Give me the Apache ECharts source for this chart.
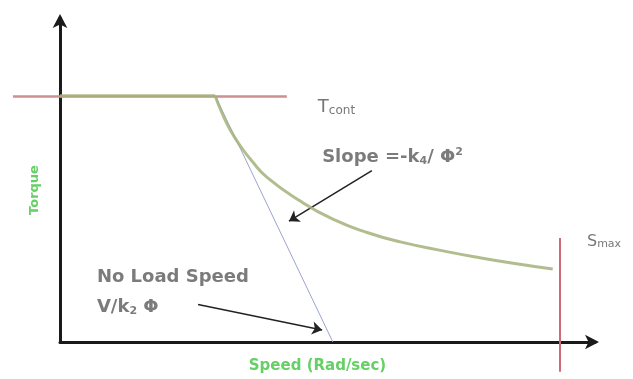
<!DOCTYPE html>
<html>
<head>
<meta charset="utf-8">
<script src="https://cdn.jsdelivr.net/npm/echarts@6/dist/echarts.min.js"></script>
<style>
  html, body { margin: 0; padding: 0; background: #fff; }
  #chart { width: 633px; height: 379px; }
</style>
</head>
<body>
<div id="chart"></div>
<script>
// Torque–speed characteristic of a DC motor (normalised units, 0–100 on both axes)
const tcont = 76;                        // continuous torque level
const tcontSpan = [-8.8, 42.4];          // speed range of the Tcont line
const smax = 93.5;                       // maximum speed
const smaxSpan = [-9.2, 32.1];           // torque range of the Smax line

// Constant-torque plateau
const plateauSpeed  = [0, 29.0];
const plateauTorque = [76, 76];

// Field-weakening torque curve beyond base speed
const curveSpeed  = [29.0, 30.2, 31.8, 33.8, 35.8, 38.7, 44.9, 51.0, 57.4, 63.6, 72.3, 78.5, 84.7, 92.1];
const curveTorque = [76, 71.0, 65.5, 60.3, 56.0, 50.8, 43.5, 37.9, 33.8, 30.9, 27.9, 26.0, 24.3, 22.5];

// Straight armature line down to the no-load speed
const loadLineSpeed  = [29.0, 51.0];
const loadLineTorque = [76, 0];

// Annotation arrows: [fromSpeed, fromTorque, toSpeed, toTorque]
const slopeArrow   = [58.3, 52.9, 42.8, 37.3];
const noLoadArrow  = [25.8, 11.6, 49.0, 3.7];

// Annotation anchors (left edge, vertical middle)
const labelNames = ['tcont', 'slope', 'noload', 'vk', 'smax'];
const labelSpeed  = [48.2, 49.0, 6.9, 6.9, 98.5];
const labelTorque = [72.5, 57.0, 19.9, 10.7, 30.9];

const xName = 'Speed (Rad/sec)';
const yName = 'Torque';

const pairs = (xs, ys) => xs.map((x, i) => [x, ys[i]]);

const labelText = {
  tcont:  '{big|T}{sub|cont}',
  slope:  '{b|Slope =-k}{bs|4}{b|/ Φ}{sup|2}',
  noload: '{b|No Load Speed}',
  vk:     '{b|V/k}{bs|2}{b| Φ}',
  smax:   '{sm|S}{subs|max}'
};

const chart = echarts.init(document.getElementById('chart'), null, { renderer: 'canvas' });

const axisLine = {
  onZero: false,
  symbol: ['none', 'arrow'],
  symbolSize: [11, 14],
  symbolOffset: [0, 4],
  lineStyle: { color: '#1a1a1a', width: 3 }
};

const curveStyle = { color: '#a3b27a', width: 3, opacity: 0.85 };

chart.setOption({
  animation: false,
  backgroundColor: '#ffffff',
  grid: { left: 60, right: 38, top: 18, bottom: 34, containLabel: false },
  xAxis: {
    type: 'value', min: 0, max: 100,
    name: xName, nameLocation: 'middle', nameGap: 17,
    nameTextStyle: { color: '#66cf66', fontFamily: 'DejaVu Sans', fontSize: 15, fontWeight: 'bold', padding: [0, 20, 0, 0] },
    axisLine: axisLine,
    axisTick: { show: false }, axisLabel: { show: false }, splitLine: { show: false }
  },
  yAxis: {
    type: 'value', min: 0, max: 100,
    name: yName, nameLocation: 'middle', nameGap: 19, nameRotate: 90,
    nameTextStyle: { color: '#66cf66', fontFamily: 'DejaVu Sans', fontSize: 13, fontWeight: 'bold', padding: [0, 20, 0, 0] },
    axisLine: axisLine,
    axisTick: { show: false }, axisLabel: { show: false }, splitLine: { show: false }
  },
  series: [
    {
      name: 'Limits', type: 'lines', coordinateSystem: 'cartesian2d', silent: true, clip: false,
      data: [
        { coords: [[tcontSpan[0], tcont], [tcontSpan[1], tcont]], lineStyle: { color: '#cc9090', width: 2.5 } },
        { coords: [[smax, smaxSpan[0]], [smax, smaxSpan[1]]], lineStyle: { color: '#d06a78', width: 2 } }
      ],
      lineStyle: { opacity: 1 }
    },
    {
      name: 'No-load line', type: 'line', clip: false, symbol: 'none', silent: true,
      data: pairs(loadLineSpeed, loadLineTorque),
      lineStyle: { color: '#9aa4cf', width: 1 }
    },
    {
      name: 'Plateau', type: 'line', clip: false, symbol: 'none', silent: true,
      data: pairs(plateauSpeed, plateauTorque),
      lineStyle: curveStyle
    },
    {
      name: 'Torque curve', type: 'line', clip: false, symbol: 'none', smooth: 0.5, silent: true,
      data: pairs(curveSpeed, curveTorque),
      lineStyle: curveStyle
    },
    {
      name: 'Arrows', type: 'lines', coordinateSystem: 'cartesian2d', silent: true,
      symbol: ['none', 'arrow'], symbolSize: 10,
      lineStyle: { color: '#222', width: 1.5, opacity: 1 },
      data: [slopeArrow, noLoadArrow].map(a => ({ coords: [[a[0], a[1]], [a[2], a[3]]] }))
    },
    {
      name: 'Annotations', type: 'scatter', symbolSize: 0, silent: true, clip: false,
      data: labelNames.map((n, i) => ({ name: n, value: [labelSpeed[i], labelTorque[i]] })),
      label: {
        show: true, position: 'right', distance: 0,
        formatter: p => labelText[p.name],
        rich: {
          big:  { fontFamily: 'DejaVu Sans', fontSize: 18, color: '#555' },
          sub:  { fontFamily: 'DejaVu Sans', fontSize: 12, color: '#555', padding: [7, 0, 0, 0] },
          b:    { fontFamily: 'DejaVu Sans', fontSize: 18, fontWeight: 'bold', color: '#5a5a5a' },
          bs:   { fontFamily: 'DejaVu Sans', fontSize: 11, fontWeight: 'bold', color: '#5a5a5a', padding: [8, 0, 0, 0] },
          sup:  { fontFamily: 'DejaVu Sans', fontSize: 11, fontWeight: 'bold', color: '#5a5a5a', padding: [0, 0, 10, 0] },
          sm:   { fontFamily: 'DejaVu Sans', fontSize: 16, color: '#555' },
          subs: { fontFamily: 'DejaVu Sans', fontSize: 11, color: '#555', padding: [4, 0, 0, 0] }
        }
      }
    }
  ]
});
</script>
</body>
</html>
